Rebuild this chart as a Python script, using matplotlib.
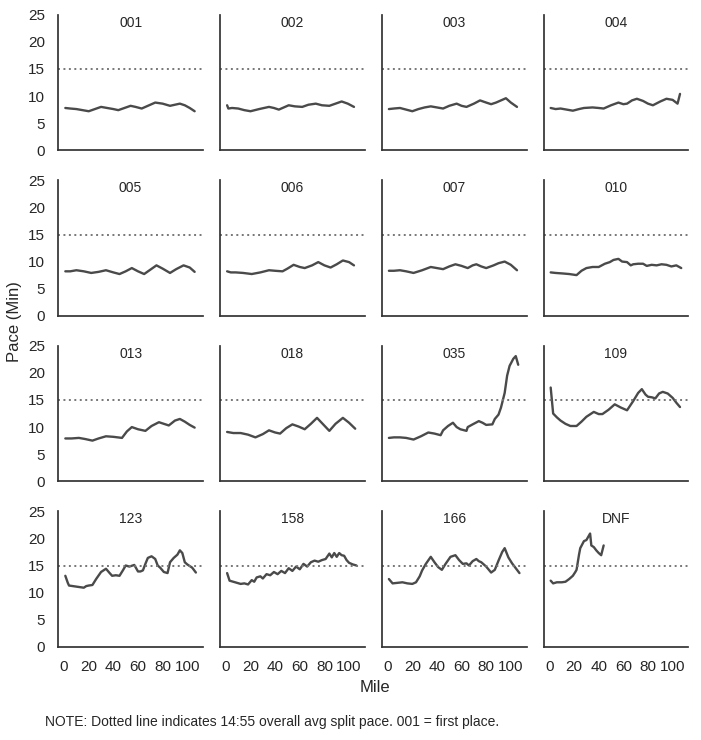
import matplotlib
matplotlib.use("Agg")
import matplotlib.pyplot as plt
import seaborn as sns

sns.set_theme(style="white")
plt.rcParams['font.family'] = ['Liberation Sans', 'DejaVu Sans']

AVG_PACE = 14 + 55 / 60  # 14:55

runners = ["001", "002", "003", "004", "005", "006", "007", "010",
           "013", "018", "035", "109", "123", "158", "166", "DNF"]

miles_001 = [1, 5, 10, 15, 20, 25, 30, 35, 40, 44, 49, 54, 58, 63, 68, 74, 80, 86, 90, 94, 98, 102, 106]
pace_001 = [7.8, 7.7, 7.6, 7.4, 7.2, 7.6, 8.0, 7.8, 7.6, 7.4, 7.8, 8.2, 8.0, 7.7, 8.2, 8.8, 8.6, 8.2, 8.4, 8.6, 8.3, 7.8, 7.2]

miles_002 = [1, 2, 5, 10, 15, 20, 27, 35, 39, 43, 47, 51, 56, 62, 67, 73, 78, 84, 89, 94, 99, 104]
pace_002 = [8.3, 7.7, 7.8, 7.7, 7.4, 7.2, 7.6, 8.0, 7.8, 7.5, 7.9, 8.3, 8.1, 8.0, 8.4, 8.6, 8.3, 8.2, 8.6, 9.0, 8.6, 8.0]

miles_003 = [1, 5, 10, 15, 20, 25, 30, 35, 40, 45, 50, 56, 60, 64, 70, 75, 80, 84, 88, 92, 96, 100, 105]
pace_003 = [7.6, 7.7, 7.8, 7.5, 7.2, 7.6, 7.9, 8.1, 7.9, 7.7, 8.2, 8.6, 8.2, 8.0, 8.6, 9.2, 8.8, 8.5, 8.8, 9.2, 9.6, 8.8, 8.0]

miles_004 = [1, 5, 9, 14, 19, 24, 28, 35, 40, 44, 50, 56, 60, 63, 67, 71, 76, 80, 84, 90, 95, 100, 104, 106]
pace_004 = [7.8, 7.6, 7.7, 7.5, 7.3, 7.6, 7.8, 7.9, 7.8, 7.7, 8.3, 8.8, 8.5, 8.6, 9.2, 9.5, 9.1, 8.6, 8.3, 9.0, 9.5, 9.3, 8.6, 10.4]

miles_005 = [1, 5, 10, 16, 22, 28, 34, 40, 45, 50, 55, 60, 65, 70, 75, 80, 86, 91, 97, 102, 106]
pace_005 = [8.2, 8.2, 8.4, 8.2, 7.9, 8.1, 8.4, 8.0, 7.7, 8.2, 8.8, 8.2, 7.7, 8.5, 9.3, 8.7, 7.9, 8.6, 9.3, 8.9, 8.1]

miles_006 = [1, 4, 8, 14, 21, 28, 35, 40, 46, 50, 55, 60, 64, 70, 75, 80, 85, 90, 95, 100, 104]
pace_006 = [8.2, 8.0, 8.0, 7.9, 7.7, 8.0, 8.4, 8.3, 8.2, 8.7, 9.4, 9.0, 8.8, 9.3, 9.9, 9.3, 8.9, 9.5, 10.2, 9.9, 9.3]

miles_007 = [1, 5, 10, 15, 21, 28, 35, 40, 45, 50, 55, 60, 65, 69, 72, 76, 80, 86, 90, 95, 100, 105]
pace_007 = [8.3, 8.3, 8.4, 8.2, 7.9, 8.4, 9.0, 8.8, 8.6, 9.1, 9.5, 9.2, 8.8, 9.3, 9.5, 9.1, 8.8, 9.3, 9.7, 10.0, 9.4, 8.4]

miles_010 = [1, 5, 11, 16, 22, 26, 30, 35, 40, 45, 49, 52, 56, 59, 63, 66, 68, 72, 76, 79, 83, 87, 91, 95, 99, 103, 107]
pace_010 = [8.0, 7.9, 7.8, 7.7, 7.5, 8.3, 8.8, 9.0, 9.0, 9.6, 9.9, 10.3, 10.5, 10.0, 9.9, 9.3, 9.5, 9.6, 9.6, 9.2, 9.4, 9.3, 9.5, 9.4, 9.1, 9.3, 8.8]

miles_013 = [1, 6, 12, 17, 23, 28, 34, 40, 47, 51, 55, 60, 66, 71, 77, 81, 85, 90, 94, 98, 102, 106]
pace_013 = [7.9, 7.9, 8.0, 7.8, 7.5, 7.9, 8.3, 8.2, 8.0, 9.2, 10.0, 9.6, 9.3, 10.2, 10.9, 10.6, 10.3, 11.2, 11.5, 11.0, 10.4, 9.9]

miles_018 = [1, 6, 12, 18, 24, 30, 35, 40, 44, 49, 54, 59, 64, 69, 74, 79, 84, 89, 95, 100, 105]
pace_018 = [9.1, 8.9, 8.9, 8.6, 8.1, 8.7, 9.4, 9.0, 8.8, 9.8, 10.5, 10.1, 9.6, 10.6, 11.7, 10.5, 9.3, 10.6, 11.7, 10.8, 9.7]

miles_035 = [1, 5, 10, 15, 21, 27, 33, 38, 43, 45, 49, 53, 56, 59, 64, 65, 69, 74, 77, 80, 85, 87, 90, 92, 95, 97, 99, 102, 104, 106]
pace_035 = [8.0, 8.1, 8.1, 8.0, 7.7, 8.3, 9.0, 8.8, 8.5, 9.4, 10.2, 10.8, 10.0, 9.6, 9.3, 10.0, 10.5, 11.1, 10.8, 10.4, 10.5, 11.5, 12.3, 13.6, 16.3, 19.5, 21.3, 22.6, 23.1, 21.5]

miles_109 = [1, 3, 6, 9, 13, 17, 22, 26, 30, 36, 40, 43, 48, 53, 58, 63, 68, 72, 75, 78, 80, 83, 86, 89, 92, 96, 100, 103, 106]
pace_109 = [17.3, 12.5, 11.8, 11.2, 10.6, 10.2, 10.2, 11.0, 11.9, 12.8, 12.4, 12.4, 13.2, 14.2, 13.6, 13.1, 14.8, 16.3, 17.0, 16.0, 15.6, 15.5, 15.3, 16.2, 16.5, 16.2, 15.4, 14.5, 13.7]

miles_123 = [1, 3, 4, 7, 10, 13, 16, 18, 20, 23, 26, 30, 34, 37, 39, 42, 45, 48, 50, 53, 57, 60, 62, 64, 66, 68, 71, 74, 76, 78, 81, 84, 86, 89, 92, 94, 96, 98, 100, 102, 104, 107]
pace_123 = [13.1, 11.8, 11.3, 11.2, 11.1, 11.0, 10.9, 11.2, 11.3, 11.4, 12.5, 13.8, 14.4, 13.6, 13.1, 13.2, 13.1, 14.2, 15.0, 14.8, 15.1, 13.9, 13.9, 14.1, 15.3, 16.4, 16.7, 16.2, 15.0, 14.6, 13.8, 13.6, 15.6, 16.4, 17.0, 17.8, 17.3, 15.6, 15.2, 14.9, 14.6, 13.7]

miles_158 = [1, 3, 6, 9, 12, 15, 18, 21, 23, 25, 28, 30, 33, 36, 39, 42, 45, 48, 51, 54, 57, 60, 63, 66, 69, 72, 75, 78, 81, 84, 86, 88, 90, 92, 94, 96, 98, 100, 103, 106]
pace_158 = [13.6, 12.2, 12.0, 11.8, 11.6, 11.7, 11.5, 12.3, 12.0, 12.8, 13.0, 12.6, 13.4, 13.2, 13.8, 13.4, 14.0, 13.6, 14.5, 14.0, 14.8, 14.3, 15.3, 14.8, 15.6, 15.9, 15.7, 16.0, 16.2, 17.2, 16.5, 17.3, 16.6, 17.3, 16.9, 16.8, 16.0, 15.5, 15.2, 15.0]

miles_166 = [1, 4, 8, 12, 16, 20, 23, 26, 28, 31, 35, 38, 41, 44, 47, 51, 55, 58, 61, 64, 66, 69, 72, 74, 76, 80, 84, 87, 90, 93, 95, 98, 101, 104, 107]
pace_166 = [12.5, 11.7, 11.8, 11.9, 11.7, 11.6, 11.9, 13.0, 14.1, 15.3, 16.6, 15.6, 14.7, 14.2, 15.3, 16.6, 16.9, 16.0, 15.3, 15.4, 15.0, 15.8, 16.2, 15.8, 15.6, 14.8, 13.7, 14.2, 15.9, 17.5, 18.2, 16.5, 15.4, 14.5, 13.6]

miles_dnf = [1, 3, 6, 10, 13, 16, 19, 21, 22, 24, 25, 28, 30, 31, 33, 34, 36, 38, 40, 42, 44]
pace_dnf = [12.2, 11.7, 11.9, 11.9, 12.0, 12.5, 13.1, 13.8, 14.2, 17.0, 18.2, 19.5, 19.7, 20.1, 20.9, 18.7, 18.4, 17.8, 17.3, 16.9, 18.7]

series = [
    (miles_001, pace_001), (miles_002, pace_002), (miles_003, pace_003), (miles_004, pace_004),
    (miles_005, pace_005), (miles_006, pace_006), (miles_007, pace_007), (miles_010, pace_010),
    (miles_013, pace_013), (miles_018, pace_018), (miles_035, pace_035), (miles_109, pace_109),
    (miles_123, pace_123), (miles_158, pace_158), (miles_166, pace_166), (miles_dnf, pace_dnf),
]

fig, axes = plt.subplots(4, 4, figsize=(7.01, 7.40), dpi=100, sharex=True, sharey=True)
fig.subplots_adjust(left=0.083, right=0.982, top=0.98, bottom=0.126, wspace=0.117, hspace=0.222)

line_color = "#4a4a4a"
for ax, name, (m, p) in zip(axes.flat, runners, series):
    ax.plot(m, p, color=line_color, linewidth=1.7)
    ax.axhline(AVG_PACE, color="#777777", linestyle=(0, (1, 1.8)), linewidth=1.4)
    ax.set_title(name, fontsize=10, y=0.89, va="bottom", pad=0)
    ax.set_ylim(0, 25)
    ax.set_yticks([0, 5, 10, 15, 20, 25])
    ax.set_xticks([0, 20, 40, 60, 80, 100])
    ax.tick_params(labelsize=11)
    for s in ("top", "right"):
        ax.spines[s].set_visible(False)
    for s in ("left", "bottom"):
        ax.spines[s].set_color("#333333")
        ax.spines[s].set_linewidth(1.25)

axes[0, 0].set_xlim(-4.8, 112.8)

fig.text(0.535, 1 - 688 / 740, "Mile", ha="center", va="center", fontsize=12)
fig.text(15 / 701, 1 - 322 / 740, "Pace (Min)", ha="center", va="center", rotation=90, fontsize=12)
fig.text(45 / 701, 1 - 722 / 740, "NOTE: Dotted line indicates 14:55 overall avg split pace. 001 = first place.",
         ha="left", va="center", fontsize=10)

fig.savefig("out.png", dpi=100)
